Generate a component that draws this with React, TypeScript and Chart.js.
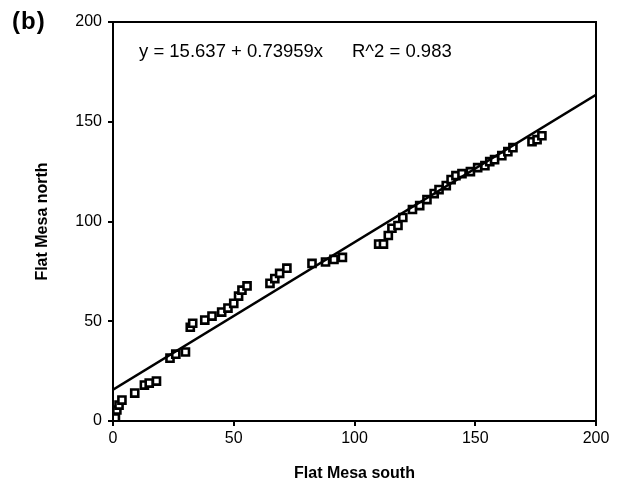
import React, { useEffect, useRef } from "react";
import { Chart, registerables } from "chart.js";

Chart.register(...registerables);

const southValues = [
  1, 1.6, 2.5, 3.7, 9, 13, 15, 18, 23.6, 26, 30, 32, 33, 38, 41, 45, 47.6, 50, 52, 53.4, 55.5,
  65, 67, 69, 72, 82.4, 88, 91.5, 95, 110, 112, 114, 115.5, 118, 120, 124, 127, 130, 133, 135,
  138, 140, 142, 144.5, 148, 151, 154, 156, 158, 161, 163.5, 165.6, 173.5, 175.6, 177.6,
];
const northValues = [
  1.5, 5.5, 8, 10.5, 14, 18, 19, 20, 31.5, 33.5, 34.6, 47, 49, 50.6, 52.6, 54.6, 56.6, 59, 62.6,
  65.6, 67.7, 69, 71.4, 74, 76.6, 79, 79.7, 81, 82, 88.7, 88.7, 93, 96.6, 98, 102, 106, 108, 111,
  114, 116, 118, 121, 123, 124, 125, 127, 128, 130, 131, 133, 135, 137, 140, 141, 143,
];
const fitIntercept = 15.637;
const fitSlope = 0.73959;
const fitRange = [0, 200];
const tickValues = [0, 50, 100, 150, 200];
const equationText = "y = 15.637 + 0.73959x";
const r2Text = "R^2 = 0.983";
const panelLabel = "(b)";
const xTitle = "Flat Mesa south";
const yTitle = "Flat Mesa north";

const FONT = "'Liberation Sans', Arial, Helvetica, sans-serif";

export default function App() {
  const ref = useRef<HTMLCanvasElement | null>(null);
  useEffect(() => {
    if (!ref.current) return;
    const points = southValues.map((x, i) => ({ x, y: northValues[i] }));
    const fit = fitRange.map((x) => ({ x, y: fitIntercept + fitSlope * x }));
    const textPlugin = {
      id: "extras",
      afterDraw(chart: any) {
        const { ctx, chartArea } = chart;
        ctx.save();
        ctx.strokeStyle = "#000";
        ctx.lineWidth = 2;
        ctx.strokeRect(chartArea.left, chartArea.top, chartArea.right - chartArea.left, chartArea.bottom - chartArea.top);
        ctx.fillStyle = "#000";
        ctx.textBaseline = "middle";
        ctx.textAlign = "left";
        ctx.font = `bold 24px ${FONT}`;
        (ctx as any).letterSpacing = "1px";
        ctx.fillText(panelLabel, 12, 22);
        ctx.font = `18.5px ${FONT}`;
        (ctx as any).letterSpacing = "0px";
        ctx.fillText(equationText, chartArea.left + 26, 52);
        ctx.fillText(r2Text, chartArea.left + 239, 52);
        ctx.restore();
      },
    };
    const chart = new Chart(ref.current, {
      type: "scatter",
      data: {
        datasets: [
          {
            type: "line",
            data: fit,
            borderColor: "#000",
            borderWidth: 2.5,
            pointRadius: 0,
            fill: false,
          } as any,
          {
            data: points,
            pointStyle: "rect",
            pointRadius: 5,
            pointBorderWidth: 2.6,
            pointBorderColor: "#000",
            pointBackgroundColor: "#fff",
            borderColor: "#000",
            backgroundColor: "#fff",
          },
        ],
      },
      options: {
        animation: false,
        responsive: false,
        layout: { padding: { left: 0, top: 22, right: 34, bottom: 0 } },
        plugins: { legend: { display: false }, tooltip: { enabled: false } },
        scales: {
          x: {
            type: "linear",
            min: 0,
            max: 200,
            afterFit: (s: any) => { s.height = 66; },
            afterBuildTicks: (s: any) => { s.ticks = tickValues.map((v) => ({ value: v })); },
            border: { display: true, color: "#000", width: 2 },
            grid: { drawOnChartArea: false, drawTicks: true, tickLength: 5, color: "#000", lineWidth: 2 },
            ticks: { color: "#000", font: { family: FONT, size: 16 }, padding: 3, maxRotation: 0 },
            title: { display: true, text: xTitle, color: "#000", font: { family: FONT, size: 16, weight: "bold" }, padding: { top: 0, bottom: 4 } },
          },
          y: {
            type: "linear",
            min: 0,
            max: 200,
            afterFit: (s: any) => { s.width = 113; },
            afterBuildTicks: (s: any) => { s.ticks = tickValues.map((v) => ({ value: v })); },
            border: { display: true, color: "#000", width: 2 },
            grid: { drawOnChartArea: false, drawTicks: true, tickLength: 5, color: "#000", lineWidth: 2 },
            ticks: { color: "#000", font: { family: FONT, size: 16 }, padding: 6 },
            title: { display: true, text: yTitle, color: "#000", font: { family: FONT, size: 16, weight: "bold" }, padding: { top: 33, bottom: 0 } },
          },
        },
      },
      plugins: [textPlugin],
    } as any);
    return () => chart.destroy();
  }, []);
  return (
    <div style={{ position: "fixed", left: 0, top: 0, width: 630, height: 487, background: "#fff" }}>
      <canvas ref={ref} width={630} height={487} style={{ display: "block" }} />
    </div>
  );
}
